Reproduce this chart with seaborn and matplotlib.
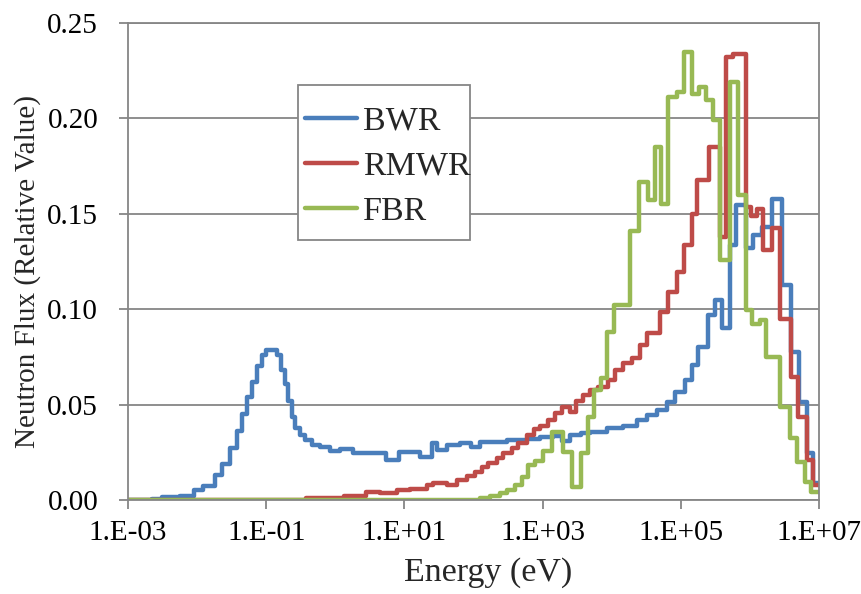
import numpy as np
import pandas as pd
import seaborn as sns
import matplotlib.pyplot as plt
from matplotlib.lines import Line2D
from matplotlib.patches import Rectangle
from matplotlib.ticker import FixedLocator, NullLocator, FuncFormatter

# Group-wise neutron spectra: lower energy bound of each group (log10 eV) and flux
bwr_log_e = [-3.0, -2.65, -2.51, -2.25, -2.05, -1.91, -1.74, -1.64, -1.52, -1.42,
             -1.35, -1.28, -1.21, -1.14, -1.065, -1.01, -0.85, -0.78, -0.73, -0.68,
             -0.63, -0.58, -0.51, -0.44, -0.34, -0.22, -0.08, 0.07, 0.26, 0.74,
             0.92, 1.23, 1.40, 1.47, 1.61, 1.80, 1.97, 2.09, 2.48, 2.77,
             2.96, 3.15, 3.28, 3.40, 3.55, 3.69, 3.93, 4.17, 4.36, 4.51,
             4.65, 4.80, 4.92, 5.06, 5.16, 5.25, 5.40, 5.49, 5.59, 5.71,
             5.80, 5.95, 6.05, 6.17, 6.32, 6.46, 6.59, 6.71, 6.82, 6.92]
bwr_flux = [0.0, 0.0005, 0.0017, 0.002, 0.005, 0.0073, 0.013, 0.019, 0.027, 0.036,
            0.045, 0.054, 0.062, 0.070, 0.076, 0.0785, 0.076, 0.068, 0.061, 0.052,
            0.0436, 0.0377, 0.034, 0.0314, 0.0288, 0.0276, 0.0258, 0.0265, 0.0248, 0.021,
            0.0253, 0.0227, 0.0297, 0.026, 0.029, 0.0297, 0.028, 0.0305, 0.0314, 0.032,
            0.033, 0.0335, 0.031, 0.034, 0.035, 0.0358, 0.0375, 0.039, 0.042, 0.0445,
            0.047, 0.0515, 0.0567, 0.0628, 0.0707, 0.080, 0.0969, 0.1047, 0.090, 0.1335,
            0.1545, 0.132, 0.1388, 0.143, 0.158, 0.1126, 0.0777, 0.0515, 0.0245, 0.009]

rmwr_log_e = [-3.0, -0.42, 0.12, 0.45, 0.65, 0.89, 1.08, 1.32, 1.42, 1.61,
              1.76, 1.90, 2.02, 2.12, 2.21, 2.34, 2.43, 2.55, 2.65, 2.77,
              2.87, 2.96, 3.08, 3.18, 3.28, 3.40, 3.49, 3.59, 3.69, 3.80,
              3.95, 4.05, 4.17, 4.29, 4.41, 4.51, 4.70, 4.82, 4.94, 5.05,
              5.16, 5.24, 5.41, 5.57, 5.66, 5.76, 5.95, 6.02, 6.10, 6.19,
              6.32, 6.44, 6.60, 6.70, 6.82, 6.92]
rmwr_flux = [0.0, 0.001, 0.002, 0.004, 0.0035, 0.005, 0.0056, 0.008, 0.0087, 0.008,
             0.0105, 0.0125, 0.0148, 0.0175, 0.0192, 0.0218, 0.0244, 0.027, 0.0297, 0.034,
             0.037, 0.0387, 0.042, 0.0454, 0.049, 0.046, 0.052, 0.055, 0.0576, 0.0593,
             0.063, 0.068, 0.0716, 0.0742, 0.0812, 0.0873, 0.0986, 0.109, 0.1196, 0.1335,
             0.150, 0.1675, 0.185, 0.138, 0.232, 0.234, 0.1536, 0.1487, 0.1527, 0.131,
             0.1423, 0.095, 0.0646, 0.0436, 0.021, 0.008]

fbr_log_e = [-3.0, 2.09, 2.24, 2.38, 2.48, 2.60, 2.70, 2.79, 2.89, 3.01,
             3.13, 3.30, 3.42, 3.56, 3.66, 3.75, 3.84, 3.93, 4.04, 4.27,
             4.39, 4.53, 4.62, 4.71, 4.82, 4.94, 5.04, 5.16, 5.27, 5.37,
             5.47, 5.57, 5.71, 5.83, 5.95, 6.03, 6.15, 6.24, 6.44, 6.58,
             6.68, 6.80, 6.89]
fbr_flux = [0.0, 0.001, 0.002, 0.0035, 0.0052, 0.0079, 0.0122, 0.0183, 0.0205, 0.0255,
            0.0358, 0.0253, 0.007, 0.0244, 0.0436, 0.0576, 0.0637, 0.088, 0.102, 0.141,
            0.1667, 0.157, 0.185, 0.1553, 0.211, 0.2138, 0.2347, 0.213, 0.2165, 0.2094,
            0.199, 0.1257, 0.219, 0.1597, 0.0995, 0.0925, 0.0942, 0.075, 0.0489, 0.0323,
            0.020, 0.0096, 0.0043]

upper_log_e = 7.0  # top edge of the last group

reactors = ["BWR", "RMWR", "FBR"]
colors = ["#4A7EBB", "#BE4B48", "#98B954"]

x_ticks = [1e-3, 1e-1, 1e1, 1e3, 1e5, 1e7]
x_tick_labels = ["1.E-03", "1.E-01", "1.E+01", "1.E+03", "1.E+05", "1.E+07"]
y_ticks = [0.00, 0.05, 0.10, 0.15, 0.20, 0.25]

# Build a long table; the last value is repeated at the upper edge so the
# final group is drawn as a full step
frames = []
for name, log_e, flux in [("BWR", bwr_log_e, bwr_flux),
                          ("RMWR", rmwr_log_e, rmwr_flux),
                          ("FBR", fbr_log_e, fbr_flux)]:
    energy = 10.0 ** np.append(log_e, upper_log_e)
    values = np.append(flux, flux[-1])
    frames.append(pd.DataFrame({"Energy": energy, "Flux": values, "Reactor": name}))
df = pd.concat(frames, ignore_index=True)

sns.set_theme(style="white")
plt.rcParams["font.family"] = ["Liberation Serif", "DejaVu Serif"]

grey = "#868686"
lw = 3.2

fig = plt.figure(figsize=(8.61, 5.94), dpi=100)
ax = fig.add_axes([128 / 861, 1 - 500 / 594, 691 / 861, 477 / 594])

sns.lineplot(data=df, x="Energy", y="Flux", hue="Reactor", hue_order=reactors,
             palette=colors, drawstyle="steps-post", linewidth=lw,
             solid_joinstyle="round", estimator=None, sort=False,
             legend=False, ax=ax)

ax.set_xscale("log")
ax.set_xlim(1e-3, 1e7)
ax.set_ylim(0, 0.25)
ax.xaxis.set_major_locator(FixedLocator(x_ticks))
ax.xaxis.set_minor_locator(NullLocator())
ax.set_xticklabels(x_tick_labels)
ax.set_yticks(y_ticks)
ax.yaxis.set_major_formatter(FuncFormatter(lambda v, _: f"{v:.2f}"))

ax.yaxis.grid(True, color=grey, linewidth=1.3)
ax.xaxis.grid(False)
ax.set_axisbelow(True)
for side in ["left", "right", "top", "bottom"]:
    ax.spines[side].set_color(grey)
    ax.spines[side].set_linewidth(1.3)

ax.tick_params(axis="both", which="major", direction="out", length=6.5, width=1.3,
               color=grey, labelsize=21, labelcolor="black",
               bottom=True, left=True)
ax.tick_params(axis="y", pad=15)
ax.tick_params(axis="x", pad=8)

ax.set_xlabel("Energy (eV)", fontsize=24.5)
ax.xaxis.set_label_coords(0.521, -0.119)
ax.set_ylabel("Neutron Flux (Relative Value)", fontsize=21)
ax.yaxis.set_label_coords(-0.126, 0.48)

# Legend box with the entries placed inside it
ax.add_patch(Rectangle(((298 - 128) / 691, (500 - 240) / 477), 172 / 691, 155 / 477,
                       transform=ax.transAxes, facecolor="white", edgecolor=grey,
                       linewidth=1.3, zorder=5))
handles = [Line2D([], [], color=c, linewidth=lw) for c in colors]
leg = ax.legend(handles, reactors, loc="upper left",
                bbox_to_anchor=((305 - 128) / 691, (500 - 106) / 477),
                frameon=False, fontsize=24.5, handlelength=1.53,
                handletextpad=0.18, labelspacing=0.42, borderpad=0,
                borderaxespad=0)
leg.set_zorder(6)

fig.savefig("out.png", dpi=100)
